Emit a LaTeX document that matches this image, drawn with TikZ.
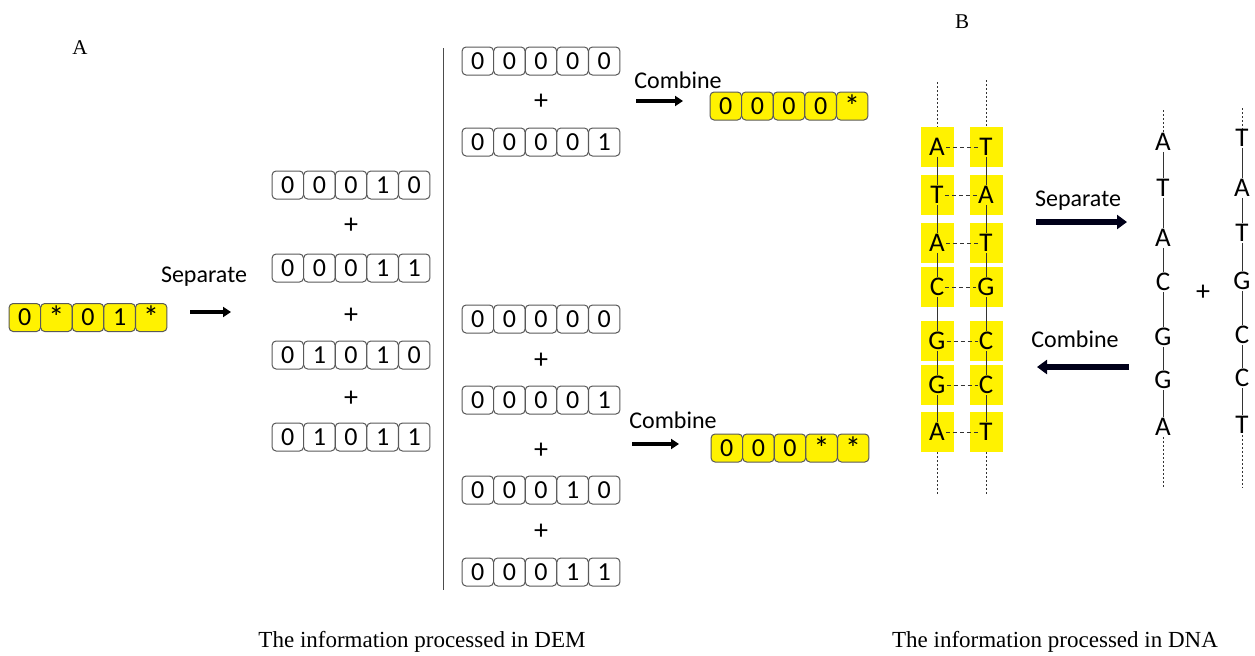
\documentclass[tikz,border=0pt]{standalone}
\usepackage{fontspec}
\setmainfont{Liberation Serif}
\newfontfamily\calfont{Carlito}
\usetikzlibrary{arrows.meta}
\newcommand\st{{\fontsize{16}{16}\selectfont *}}
\begin{document}
\begin{tikzpicture}[x=0.5pt,y=-0.5pt,
  bit/.style={draw=black!65, rounded corners=2pt, minimum width=15.7pt, minimum height=14pt, inner sep=0pt, line width=0.5pt, font=\calfont\fontsize{13}{13}\selectfont},
  ybit/.style={bit, fill=yellow},
  wbit/.style={bit, fill=white},
  plus/.style={font=\calfont\fontsize{14}{14}\selectfont, inner sep=0pt},
  lbl/.style={font=\calfont\fontsize{12}{12}\selectfont, inner sep=0pt},
  captxt/.style={font=\fontsize{11.5}{11.5}\selectfont, inner sep=0pt},
  arr/.style={line width=2pt, -{Triangle[length=4pt,width=5pt]}},
  darr/.style={line width=3.2pt, draw=black!90!blue, -{Triangle[length=5pt,width=7pt]}},
  ybox/.style={fill=yellow, minimum width=16.5pt, minimum height=20pt, inner sep=0pt},
  base/.style={font=\calfont\fontsize{13.5}{13.5}\selectfont, inner sep=0.4pt},
  bb/.style={line width=0.5pt, draw=black!80},
  dotl/.style={line width=0.4pt, draw=black!80, dash pattern=on 1pt off 1pt},
  hb/.style={line width=0.4pt, draw=black!80, dash pattern=on 2pt off 1.5pt}
]
\useasboundingbox (0,0) rectangle (1255,655);
\newcommand\bitrow[5]{%
  \foreach \d [count=\i] in {#5} {\node[#4] (#1-\i) at ({#2+(\i-0.5)*31.6}, #3) {\d};}}

% labels A and B
\node[captxt, font=\fontsize{10.5}{10.5}\selectfont] (labA) at (80,48) {A};
\node[captxt, font=\fontsize{10.5}{10.5}\selectfont] (labB) at (962,22) {B};

% part A
\bitrow{s}{9}{317.5}{ybit}{0,\st,0,1,\st}
\node[lbl] (sepA) at (204,277) {Separate};
\coordinate (sa1) at (190,312); \coordinate (sa2) at (231,312);
\draw[arr] (sa1) -- (sa2);

\bitrow{c1}{272}{185}{wbit}{0,0,0,1,0}
\node[plus] (p1) at (351,226) {+};
\bitrow{c2}{272}{268}{wbit}{0,0,0,1,1}
\node[plus] (p2) at (351,316) {+};
\bitrow{c3}{272}{355}{wbit}{0,1,0,1,0}
\node[plus] (p3) at (351,399) {+};
\bitrow{c4}{272}{437}{wbit}{0,1,0,1,1}

\coordinate (v1) at (443,48); \coordinate (v2) at (443,590);
\draw[line width=0.5pt, black!70] (v1) -- (v2);

\bitrow{d1}{462}{61}{wbit}{0,0,0,0,0}
\node[plus] (p4) at (541,102) {+};
\bitrow{d2}{462}{142}{wbit}{0,0,0,0,1}

\bitrow{e1}{462}{319}{wbit}{0,0,0,0,0}
\node[plus] (p5) at (541,361) {+};
\bitrow{e2}{462}{400}{wbit}{0,0,0,0,1}
\node[plus] (p6) at (541,451) {+};
\bitrow{e3}{462}{490}{wbit}{0,0,0,1,0}
\node[plus] (p7) at (541,532) {+};
\bitrow{e4}{462}{572}{wbit}{0,0,0,1,1}

\node[lbl] (comb1) at (678,80) {Combine};
\coordinate (ca1) at (636,101); \coordinate (ca2) at (683,101);
\draw[arr] (ca1) -- (ca2);
\bitrow{r1}{710}{106}{ybit}{0,0,0,0,\st}

\node[lbl] (comb2) at (673,420) {Combine};
\coordinate (cb1) at (632,444); \coordinate (cb2) at (679,444);
\draw[arr] (cb1) -- (cb2);
\bitrow{r2}{711}{448}{ybit}{0,0,0,\st,\st}

% part B: double strand
\foreach \a/\b/\y [count=\i] in {A/T/147, T/A/195, A/T/243, C/G/287, G/C/341, G/C/385, A/T/432} {
  \node[ybox] (bl\i) at (937,\y) {};
  \node[ybox] (br\i) at (986,\y) {};
}
\foreach \a/\b/\y [count=\i] in {A/T/147, T/A/195, A/T/243, C/G/287, G/C/341, G/C/385, A/T/432} {
  \node[base] (ll\i) at (937,\y) {\a};
  \node[base] (lr\i) at (986,\y) {\b};
  \draw[hb] (ll\i) -- (lr\i);
}
\foreach \i [evaluate=\i as \j using int(\i+1)] in {1,...,6} {
  \draw[bb] (ll\i) -- (ll\j);
  \draw[bb] (lr\i) -- (lr\j);
}
\coordinate (tl) at (937,82); \coordinate (tr) at (986,80);
\coordinate (ul) at (937,495); \coordinate (ur) at (986,495);
\draw[dotl] (tl) -- (bl1.north);
\draw[dotl] (tr) -- (br1.north);
\draw[dotl] (bl7.south) -- (ul);
\draw[dotl] (br7.south) -- (ur);

\node[lbl] (sepB) at (1078,201) {Separate};
\coordinate (sb1) at (1036,222); \coordinate (sb2) at (1127,222);
\draw[darr] (sb1) -- (sb2);
\node[lbl] (combB) at (1075,339) {Combine};
\coordinate (cc1) at (1129,367); \coordinate (cc2) at (1037,367);
\draw[darr] (cc1) -- (cc2);

% single strands
\foreach \a/\y [count=\i] in {A/142, T/188, A/238, C/282, G/337, G/380, A/427} {
  \node[base] (sl\i) at (1163,\y) {\a};
}
\foreach \a/\y [count=\i] in {T/138, A/188, T/233, G/281, C/335, C/378, T/425} {
  \node[base] (sr\i) at (1242,\y) {\a};
}
\foreach \i [evaluate=\i as \j using int(\i+1)] in {1,...,6} {
  \draw[bb] (sl\i) -- (sl\j);
  \draw[bb] (sr\i) -- (sr\j);
}
\coordinate (stl) at (1163,110); \coordinate (str) at (1242,108);
\coordinate (sul) at (1163,487); \coordinate (sur) at (1242,487);
\draw[dotl] (stl) -- (sl1);
\draw[dotl] (str) -- (sr1);
\draw[dotl] (sl7) -- (sul);
\draw[dotl] (sr7) -- (sur);
\node[plus] (p8) at (1203,293) {+};

% captions
\node[captxt] (capA) at (422,642) {The information processed in DEM};
\node[captxt] (capB) at (1055,642) {The information processed in DNA};
\end{tikzpicture}
\end{document}
